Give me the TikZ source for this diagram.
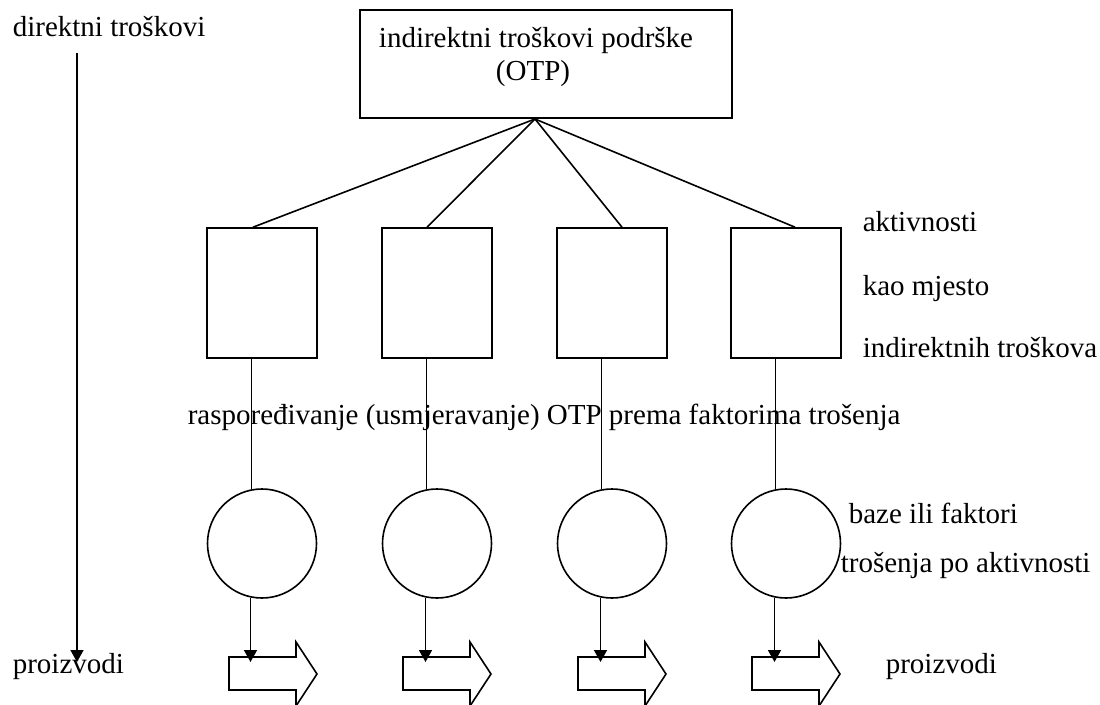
\documentclass[tikz,border=0pt]{standalone}
\usepackage{fontspec}
\setmainfont{Liberation Serif}
\usetikzlibrary{arrows.meta}
\begin{document}
\begin{tikzpicture}[x=1pt,y=-1pt, line width=1.6pt,
  box/.style={draw, minimum width=110pt, minimum height=130pt, inner sep=0pt},
  otpbox/.style={draw, minimum width=372pt, minimum height=108pt, inner sep=0pt},
  circ/.style={draw, circle, minimum size=109pt, inner sep=0pt},
  txt/.style={anchor=base west, inner sep=0pt, font=\fontsize{29}{33}\selectfont},
  ctxt/.style={anchor=base, inner sep=0pt, font=\fontsize{29}{33}\selectfont},
  arr/.style={-{Triangle[width=13pt,length=12pt]}},
  blk/.style={draw, line join=miter}]
\useasboundingbox (0,0) rectangle (1100,704);

% texts
\node[txt] (dt) at (12,36) {direktni troškovi};
\node[txt] (pl) at (12,673) {proizvodi};
\node[ctxt] (otpa) at (536,47) {indirektni troškovi podrške};
\node[ctxt] (otpb) at (533,80) {(OTP)};
\node[txt] (ak1) at (862,231) {aktivnosti};
\node[txt] (ak2) at (862,295) {kao mjesto};
\node[txt] (ak3) at (862,357) {indirektnih troškova};
\node[txt] (mid) at (187,424) {raspoređivanje (usmjeravanje) OTP prema faktorima trošenja};
\node[txt] (bz1) at (848,523) {baze ili faktori};
\node[txt] (bz2) at (840,572) {trošenja po aktivnosti};
\node[txt] (pr) at (885,673) {proizvodi};

% top box
\node[otpbox] (otp) at (546,64) {};
\coordinate (apex) at (535,119);

% boxes and circles
\foreach \i/\cx in {1/262,2/437,3/612,4/786}{
  \node[box] (b\i) at (\cx,293) {};
  \node[circ] (c\i) at (\cx,543.5) {};
}

% lines from top box
\draw (apex) -- ([xshift=-9pt]b1.north);
\draw (apex) -- ([xshift=-10pt]b2.north);
\draw (apex) -- ([xshift=10pt]b3.north);
\draw (apex) -- ([xshift=9pt]b4.north);

% block arrows
\foreach \i/\xa in {1/229,2/403,3/578,4/752}{
  \coordinate (t\i) at (\xa+22,662);
  \draw[blk] (\xa,657) -- (\xa+67,657) -- (\xa+67,642) -- (\xa+88,674)
     -- (\xa+67,706) -- (\xa+67,690) -- (\xa,690) -- cycle;
}

% verticals
\foreach \i in {1,2,3,4}{
  \draw (c\i.101.6 |- b\i.south) -- (c\i.101.6);
  \draw[arr] (c\i.258.4) -- (c\i.258.4 |- t\i);
}

% left arrow
\coordinate (ds) at (77,53);
\coordinate (de) at (77,662);
\draw[arr] (ds) -- (de);
\end{tikzpicture}
\end{document}
